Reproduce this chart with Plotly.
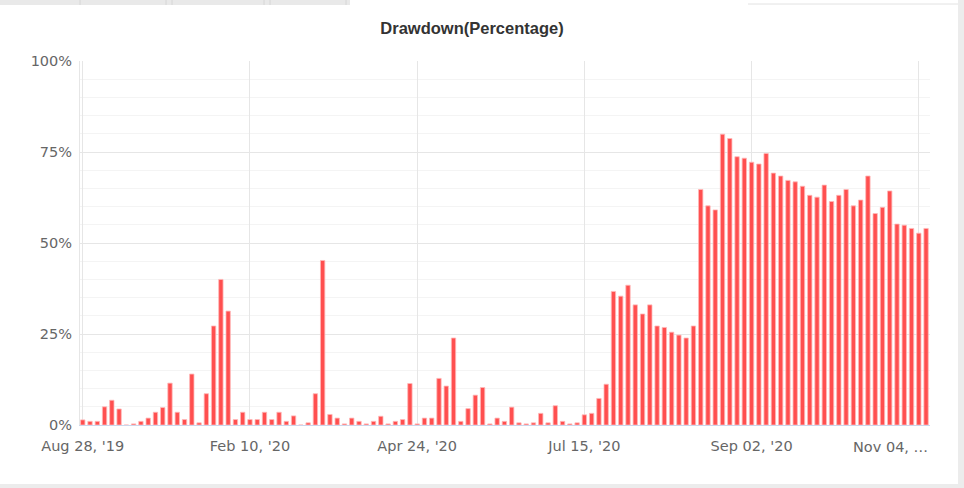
import plotly.graph_objects as go

# Drawdown per period, in percent
drawdown = [
    1.4, 1.0, 1.0, 5.0, 6.8, 4.4, 0.0, 0.3, 1.0, 1.9,
    3.5, 4.8, 11.5, 3.5, 1.5, 14.0, 0.6, 8.6, 27.2, 40.0,
    31.3, 1.5, 3.5, 1.5, 1.5, 3.5, 1.5, 3.5, 1.0, 2.5,
    0.0, 0.6, 8.6, 45.2, 2.9, 1.9, 0.3, 1.9, 1.0, 0.3,
    1.0, 2.4, 0.3, 1.0, 1.5, 11.4, 0.3, 1.9, 1.9, 12.8,
    10.7, 23.9, 1.0, 4.5, 8.2, 10.3, 0.3, 1.9, 1.0, 4.9,
    0.6, 0.3, 0.6, 3.2, 0.6, 5.3, 1.0, 0.3, 0.6, 2.8,
    3.2, 7.3, 11.2, 36.7, 35.4, 38.4, 33.0, 30.5, 33.0, 27.2,
    26.8, 25.5, 24.7, 23.9, 27.2, 64.7, 60.2, 59.1, 79.9, 78.7,
    73.7, 73.3, 72.2, 71.7, 74.6, 69.2, 68.4, 67.2, 66.8, 65.6,
    63.1, 62.6, 65.9, 61.4, 63.1, 64.7, 60.2, 61.8, 68.4, 58.1,
    59.8, 64.3, 55.2, 54.9, 54.0, 52.7, 54.0,
]

# Category labels shown on the x axis (one every 23 periods)
tick_labels = ["Aug 28, '19", "Feb 10, '20", "Apr 24, '20",
               "Jul 15, '20", "Sep 02, '20", "Nov 04, …"]
label_step = 23

y_ticks = [0, 25, 50, 75, 100]

periods = list(range(len(drawdown)))
tick_idx = [i * label_step for i in range(len(tick_labels))]

W, H = 964, 488
L, R, T, B = 80, 34, 61, 63
pw, ph = W - L - R, H - T - B


def px(x):
    return (x - L) / pw


def py(y):
    return (H - B - y) / ph


fig = go.Figure()

fig.add_trace(
    go.Bar(
        x=periods,
        y=drawdown,
        width=0.6,
        marker=dict(color="rgba(255,60,60,0.9)",
                    line=dict(color="rgba(255,185,185,1)", width=0.8)),
        showlegend=False,
        hoverinfo="skip",
    )
)

# last label is pushed inside the plot edge, like the original
fig.add_annotation(
    x=1.0, xref="paper", xanchor="right",
    y=py(447), yref="paper", yanchor="middle",
    text=tick_labels[-1], showarrow=False,
    font=dict(family="DejaVu Sans", size=14.5, color="#666666"),
)

tick_text = tick_labels[:-1] + [""]

# page decoration: tab strip on top, frame shadow right/bottom
shapes = [
    dict(type="rect", xref="paper", yref="paper", x0=px(0), x1=px(350),
         y0=py(0), y1=py(5), fillcolor="#e9e9e9", line=dict(width=0), layer="below"),
    dict(type="line", xref="paper", yref="paper", x0=px(748), x1=px(958),
         y0=py(4), y1=py(4), line=dict(color="#e2e2e2", width=1)),
    dict(type="rect", xref="paper", yref="paper", x0=px(958), x1=px(964),
         y0=py(0), y1=py(488), fillcolor="#ececec", line=dict(width=0)),
    dict(type="rect", xref="paper", yref="paper", x0=px(0), x1=px(964),
         y0=py(484), y1=py(488), fillcolor="#ececec", line=dict(width=0)),
]
for sx in (80, 166, 172, 264, 270, 346):
    shapes.append(dict(type="line", xref="paper", yref="paper", x0=px(sx), x1=px(sx),
                       y0=py(0), y1=py(5), line=dict(color="#d6d6d6", width=1)))

fig.update_layout(
    width=W,
    height=H,
    margin=dict(l=L, r=R, t=T, b=B),
    paper_bgcolor="white",
    plot_bgcolor="white",
    bargap=0.4,
    shapes=shapes,
    title=dict(
        text="<b>Drawdown(Percentage)</b>",
        xref="container", x=472 / W, xanchor="center",
        yref="container", y=1 - 28 / H, yanchor="middle",
        font=dict(family="Liberation Sans", size=16.5, color="#333333"),
    ),
    xaxis=dict(
        range=[-0.378, 116.54],
        tickmode="array",
        tickvals=tick_idx,
        ticktext=tick_text,
        showgrid=True,
        gridcolor="#e6e6e6",
        zeroline=False,
        showline=True,
        linecolor="#ccd6eb",
        ticks="",
        ticklabelstandoff=8,
        tickfont=dict(family="DejaVu Sans", size=14.5, color="#666666"),
    ),
    yaxis=dict(
        range=[0, 100],
        tickmode="array",
        tickvals=y_ticks,
        ticktext=[f"{v}%" for v in y_ticks],
        showgrid=True,
        gridcolor="#e6e6e6",
        minor=dict(dtick=5, showgrid=True, gridcolor="#f4f4f4"),
        zeroline=False,
        showline=True,
        linecolor="#e6e6e6",
        ticks="",
        ticklabelstandoff=4,
        tickfont=dict(family="DejaVu Sans", size=14.5, color="#666666"),
    ),
)

# the page is the chart: no default body margin
fig.write_html("out.html", config={"displayModeBar": False},
               post_script="document.body.style.margin='0';")
